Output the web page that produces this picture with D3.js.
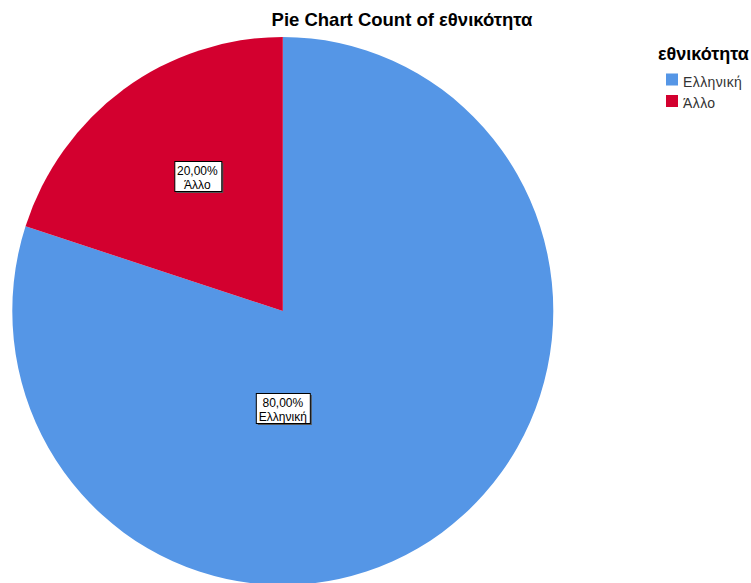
<!DOCTYPE html>
<html>
<head>
<meta charset="utf-8">
<script src="https://cdn.jsdelivr.net/npm/d3@7"></script>
<style>
  body { margin: 0; background: #fff; }
  svg { display: block; font-family: "Liberation Sans", Arial, sans-serif; }
</style>
</head>
<body>
<svg id="chart" width="751" height="583"></svg>
<script>
// data
var categories = ["Ελληνική", "Άλλο"];
var percents = [80, 20];
var sliceColors = ["#5596e6", "#d3002f"];
var chartTitle = "Pie Chart Count of εθνικότητα";
var legendTitle = "εθνικότητα";

// layout
var cx = 282.8, cy = 311, rx = 270.5, ry = 274;
// label centres relative to pie centre (SPSS places them its own way)
var labelOffsets = [[0, 98], [-85.5, -134]];

var svg = d3.select("#chart");

var color = d3.scaleOrdinal().domain(categories).range(sliceColors);

var pie = d3.pie().sort(null).value(function(d){ return d.value; });
var arcs = pie(categories.map(function(c, i){ return {name: c, value: percents[i]}; }));
var arc = d3.arc().innerRadius(0).outerRadius(rx);

//--------------------------------PIE------------------------------------------
var g = svg.append("g")
  .attr("transform", "translate(" + cx + "," + cy + ") scale(1," + (ry / rx) + ")");
g.selectAll("path")
  .data(arcs)
  .enter().append("path")
    .attr("d", arc)
    .attr("fill", function(d){ return color(d.data.name); });

//--------------------------------LABELS---------------------------------------
var fmt = function(v){ return v.toFixed(2).replace(".", ",") + "%"; };
arcs.forEach(function(d, i){
  var lx = cx + labelOffsets[i][0], ly = cy + labelOffsets[i][1];
  var lab = svg.append("g").attr("transform", "translate(" + lx + "," + ly + ")");
  var shadow = lab.append("rect").attr("fill", "#555");
  var box = lab.append("rect").attr("fill", "#fff").attr("stroke", "#000").attr("stroke-width", 1);
  var lines = [fmt(d.data.value), d.data.name];
  var t = lab.selectAll("text")
    .data(lines)
    .enter().append("text")
      .attr("x", 0)
      .attr("y", function(s, j){ return -2 + j * 13.5; })
      .attr("text-anchor", "middle")
      .attr("font-size", "12px")
      .attr("fill", "#000")
      .text(function(s){ return s; });
  var b0 = t.nodes()[0].getBBox(), b1 = t.nodes()[1].getBBox();
  var bw = Math.max(b0.width, b1.width);
  var w = Math.round(bw + 6), h = 30;
  var x0 = Math.round(-w / 2) + 0.5, y0 = -15.5;
  box.attr("x", x0).attr("y", y0).attr("width", w).attr("height", h);
  shadow.attr("x", x0 + 1.5).attr("y", y0 + 1.5).attr("width", w).attr("height", h);
});

//--------------------------------TITLE----------------------------------------
svg.append("text")
  .attr("x", 402)
  .attr("y", 26)
  .attr("text-anchor", "middle")
  .attr("font-size", "18.5px")
  .attr("font-weight", "bold")
  .attr("fill", "#000")
  .text(chartTitle);

//--------------------------------LEGEND---------------------------------------
var legend = svg.append("g").attr("transform", "translate(658,0)");
legend.append("text")
  .attr("x", 0)
  .attr("y", 60)
  .attr("font-size", "18px")
  .attr("font-weight", "bold")
  .attr("fill", "#000")
  .text(legendTitle);
var item = legend.selectAll("g.item")
  .data(categories)
  .enter().append("g")
    .attr("class", "item")
    .attr("transform", function(d, i){ return "translate(0," + (73.5 + i * 21.5) + ")"; });
item.append("rect")
  .attr("x", 8).attr("y", 0)
  .attr("width", 12).attr("height", 12)
  .attr("fill", function(d){ return color(d); });
item.append("text")
  .attr("x", 25).attr("y", 13)
  .attr("font-size", "14px")
  .attr("letter-spacing", "0.4px")
  .attr("fill", "#333")
  .text(function(d){ return d; });
</script>
</body>
</html>
